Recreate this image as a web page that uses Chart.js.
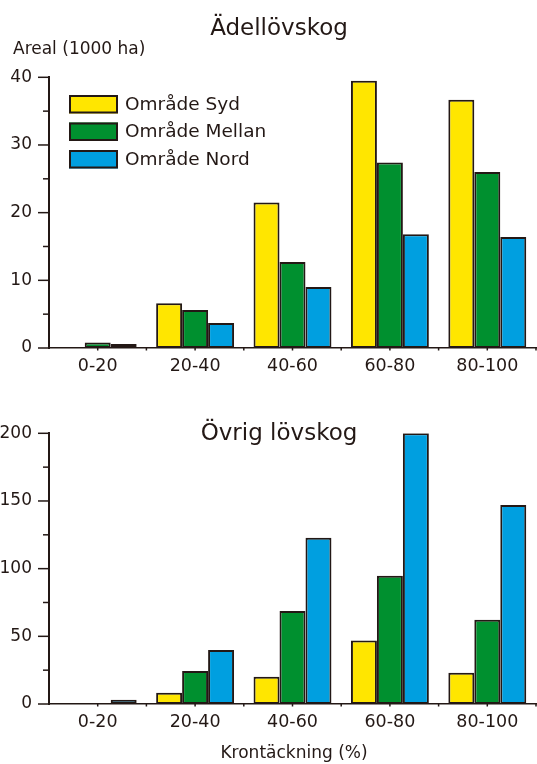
<!DOCTYPE html>
<html>
<head>
<meta charset="utf-8">
<script src="https://cdn.jsdelivr.net/npm/chart.js@4"></script>
<style>
  html,body{margin:0;padding:0;background:#fff;}
  .wrap{position:absolute;left:0;width:537px;height:382px;}
</style>
</head>
<body>
<div class="wrap" style="top:0"><canvas id="c1" width="537" height="382"></canvas></div>
<div class="wrap" style="top:382px"><canvas id="c2" width="537" height="382"></canvas></div>
<script>
// data
const categories=['0-20','20-40','40-60','60-80','80-100'];
const seriesNames=['Område Syd','Område Mellan','Område Nord'];
const adelSyd=[0,6.6,21.5,39.5,36.7];
const adelMellan=[0.8,5.6,12.7,27.4,26.0];
const adelNord=[0.6,3.7,9.0,16.8,16.4];
const ovrigSyd=[0.5,8.3,20.2,47,23.1];
const ovrigMellan=[0.8,24.4,68.7,94.8,62.3];
const ovrigNord=[3.2,39.9,122.9,200,147];
const adelMax=40, adelStep=10;
const ovrigMax=200, ovrigStep=50;

const INK='#231815';
const COLORS=['#ffe600','#00902f','#009fe0'];
const FONT='"DejaVu Sans", sans-serif';

function decor(o){
  return {id:'decor',afterDraw(chart){
    const{ctx,chartArea:{left,top,bottom},scales:{x,y}}=chart;
    ctx.save();
    ctx.strokeStyle=INK;ctx.lineWidth=1.5;
    // y ticks, major + minor
    for(let v=0;v<=o.max;v+=o.step/2){
      const yp=y.getPixelForValue(v);
      const len=(v%o.step===0)?11:6;
      ctx.beginPath();ctx.moveTo(left-len,yp);ctx.lineTo(left,yp);ctx.stroke();
    }
    // small x marks at centers and boundaries
    const cw=x.getPixelForValue(1)-x.getPixelForValue(0);
    categories.forEach((c,i)=>{
      const xp=x.getPixelForValue(i);
      [xp,xp+cw/2].forEach(p=>{ctx.beginPath();ctx.moveTo(p,bottom);ctx.lineTo(p,bottom+2.5);ctx.stroke();});
    });
    ctx.fillStyle=INK;
    ctx.textAlign='center';ctx.textBaseline='alphabetic';
    ctx.font='23px '+FONT;
    ctx.fillText(o.title,279,o.titleY);
    if(o.ylabel){
      ctx.textAlign='left';ctx.font='17px '+FONT;
      ctx.fillText(o.ylabel,13,54);
    }
    if(o.xlabel){
      ctx.textAlign='center';ctx.font='17px '+FONT;
      ctx.fillText(o.xlabel,294,376);
    }
    if(o.legend){
      ctx.font='18.5px '+FONT;ctx.textAlign='left';ctx.textBaseline='middle';
      chart.data.datasets.forEach((d,i)=>{
        const ty=95+i*27.5;
        ctx.fillStyle=d.backgroundColor;
        ctx.fillRect(69,ty,49,18.5);
        ctx.strokeStyle=INK;ctx.lineWidth=2;
        ctx.strokeRect(70,ty+1,47,16.5);
        ctx.fillStyle=INK;
        ctx.fillText(d.label,125,ty+10);
      });
    }
    ctx.restore();
  }};
}

function makeChart(id,series,o){
  return new Chart(document.getElementById(id),{
    type:'bar',
    data:{labels:categories,datasets:series.map((s,i)=>({
      label:seriesNames[i],data:s,backgroundColor:COLORS[i],borderColor:INK,borderWidth:2,
      borderSkipped:false,categoryPercentage:0.8,barPercentage:1.0
    }))},
    options:{
      responsive:false,animation:false,
      layout:{padding:{top:o.padTop,right:1,left:0,bottom:0}},
      plugins:{legend:{display:false},tooltip:{enabled:false},title:{display:false}},
      scales:{
        x:{grid:{display:false,drawTicks:false},border:{display:true,width:1.5,color:INK},
          ticks:{color:INK,font:{family:FONT,size:17.5},padding:8},
          afterFit(s){s.height=o.xh;}},
        y:{min:0,max:o.max,grid:{display:false,drawTicks:false},border:{display:true,width:2,color:INK},
          ticks:{stepSize:o.step,color:INK,font:{family:FONT,size:17},padding:17},
          afterFit(s){s.width=49;}}
      }
    },
    plugins:[decor(o)]
  });
}

makeChart('c1',[adelSyd,adelMellan,adelNord],{
  max:adelMax,step:adelStep,padTop:77.3,xh:34,title:'Ädellövskog',titleY:35,
  ylabel:'Areal (1000 ha)',legend:true
});
makeChart('c2',[ovrigSyd,ovrigMellan,ovrigNord],{
  max:ovrigMax,step:ovrigStep,padTop:51.3,xh:60,title:'Övrig lövskog',titleY:58,
  xlabel:'Krontäckning (%)'
});
</script>
</body>
</html>
